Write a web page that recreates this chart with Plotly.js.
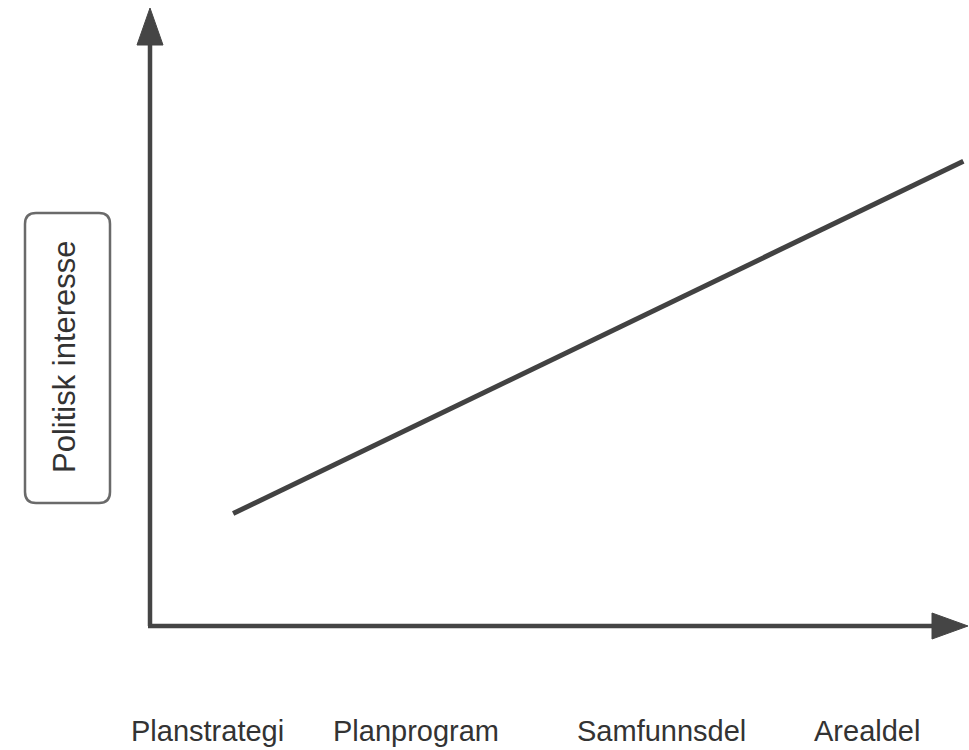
<!DOCTYPE html>
<html>
<head>
<meta charset="utf-8">
<script src="https://cdn.plot.ly/plotly-3.0.1.min.js"></script>
<style>html,body{margin:0;padding:0;background:#fff;}#chart{width:969px;height:750px;}</style>
</head>
<body>
<div id="chart"></div>
<script>
// Categories along the x axis (positions on a 0–10 abstract scale)
var categories = ["Planstrategi", "Planprogram", "Samfunnsdel", "Arealdel"];
var categoryPos = [0.70, 3.26, 6.27, 8.80];
// Trend line: political interest rising through the planning stages
var trendX = [1.02, 9.98];
var trendY = [1.82, 7.52];
var yAxisLabel = "Politisk interesse";

var W = 969, H = 750;
var mL = 150, mR = 4, mT = 8, mB = 124;
var pw = W - mL - mR, ph = H - mT - mB;
function px(x) { return (x - mL) / pw; }
function py(y) { return (H - mB - y) / ph; }

var ink = "#454545";
var font = "Liberation Sans, Arial, Helvetica, sans-serif";

var shapes = [
  // y axis shaft
  {type: "line", xref: "paper", yref: "paper", x0: 0, x1: 0, y0: py(626), y1: py(40),
   line: {color: ink, width: 4.5}},
  // y axis arrow head
  {type: "path", xref: "paper", yref: "paper",
   path: "M " + px(137) + " " + py(45) + " L " + px(150) + " " + py(8) + " L " + px(163) + " " + py(45) + " Z",
   fillcolor: ink, line: {color: ink, width: 1}},
  // x axis shaft
  {type: "line", xref: "paper", yref: "paper", x0: px(148), x1: px(935), y0: 0, y1: 0,
   line: {color: ink, width: 4.5}},
  // x axis arrow head
  {type: "path", xref: "paper", yref: "paper",
   path: "M " + px(932) + " " + py(613) + " L " + px(968) + " " + py(626) + " L " + px(932) + " " + py(639) + " Z",
   fillcolor: ink, line: {color: ink, width: 1}}
];

// rounded box around the y label
(function () {
  var x0 = 25, x1 = 110, y0 = 213, y1 = 503, r = 11;
  var p = "M " + px(x0 + r) + " " + py(y0) +
    " L " + px(x1 - r) + " " + py(y0) +
    " Q " + px(x1) + " " + py(y0) + " " + px(x1) + " " + py(y0 + r) +
    " L " + px(x1) + " " + py(y1 - r) +
    " Q " + px(x1) + " " + py(y1) + " " + px(x1 - r) + " " + py(y1) +
    " L " + px(x0 + r) + " " + py(y1) +
    " Q " + px(x0) + " " + py(y1) + " " + px(x0) + " " + py(y1 - r) +
    " L " + px(x0) + " " + py(y0 + r) +
    " Q " + px(x0) + " " + py(y0) + " " + px(x0 + r) + " " + py(y0) + " Z";
  shapes.push({type: "path", xref: "paper", yref: "paper", path: p,
    fillcolor: "rgba(0,0,0,0)", line: {color: "#6a6a6a", width: 2.5}});
})();

var annotations = categories.map(function (c, i) {
  return {x: categoryPos[i], xref: "x", y: py(731), yref: "paper", text: c,
    showarrow: false, xanchor: "center", yanchor: "middle", borderpad: 0,
    font: {family: font, size: 29, color: "#333"}};
});
annotations.push({x: px(64), xref: "paper", y: py(357), yref: "paper", text: yAxisLabel,
  textangle: -90, showarrow: false, xanchor: "center", yanchor: "middle",
  font: {family: font, size: 31, color: "#333"}});

var data = [{
  x: trendX, y: trendY, type: "scatter", mode: "lines",
  line: {color: "#424242", width: 5}, hoverinfo: "skip", showlegend: false
}];

var layout = {
  width: W, height: H,
  margin: {l: mL, r: mR, t: mT, b: mB, pad: 0},
  paper_bgcolor: "#fff", plot_bgcolor: "#fff",
  xaxis: {range: [0, 10], showgrid: false, zeroline: false, showline: false,
    showticklabels: false, ticks: "", fixedrange: true},
  yaxis: {range: [0, 10], showgrid: false, zeroline: false, showline: false,
    showticklabels: false, ticks: "", fixedrange: true},
  shapes: shapes,
  annotations: annotations,
  showlegend: false
};

Plotly.newPlot("chart", data, layout, {displayModeBar: false, staticPlot: true});
</script>
</body>
</html>
